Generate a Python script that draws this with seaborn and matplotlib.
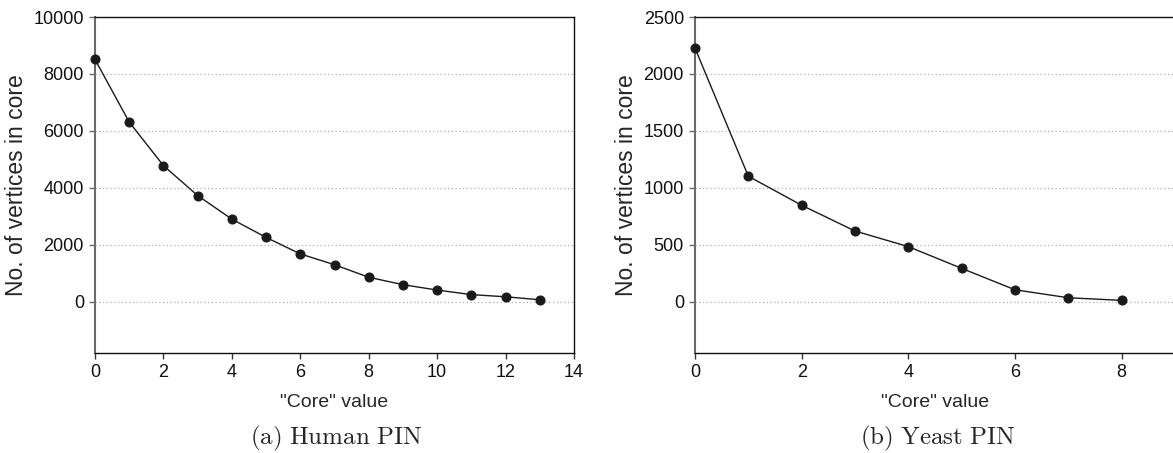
import matplotlib
matplotlib.use("Agg")
import matplotlib.pyplot as plt
import seaborn as sns
import pandas as pd

human_core = [0, 1, 2, 3, 4, 5, 6, 7, 8, 9, 10, 11, 12, 13]
human_vertices = [8510, 6310, 4780, 3730, 2900, 2260, 1680, 1300, 860, 600, 410, 250, 175, 70]
yeast_core = [0, 1, 2, 3, 4, 5, 6, 7, 8]
yeast_vertices = [2227, 1102, 847, 621, 484, 293, 105, 35, 12]

human_yticks = [0, 2000, 4000, 6000, 8000, 10000]
yeast_yticks = [0, 500, 1000, 1500, 2000, 2500]
human_xticks = [0, 2, 4, 6, 8, 10, 12, 14]
yeast_xticks = [0, 2, 4, 6, 8]
captions = ["(a)\\ Human\\ PIN", "(b)\\ Yeast\\ PIN"]

sns.set_style("white", {"xtick.bottom": True, "ytick.left": True})
plt.rcParams["font.family"] = ["Liberation Sans", "DejaVu Sans"]
plt.rcParams["mathtext.fontset"] = "cm"

W, H = 1173, 453
fig = plt.figure(figsize=(W / 100, H / 100), dpi=100)

def box(l, t, r, b):
    return [l / W, 1 - b / H, (r - l) / W, (b - t) / H]

ax1 = fig.add_axes(box(95, 17, 574, 353))
ax2 = fig.add_axes(box(695, 17, 1175, 353))

panels = [
    (ax1, human_core, human_vertices, human_yticks, human_xticks, (0, 14), (-1800, 10000), captions[0], 336),
    (ax2, yeast_core, yeast_vertices, yeast_yticks, yeast_xticks, (0, 9), (-450, 2500), captions[1], 938),
]

for ax, xs, ys, yt, xt, xl, yl, cap, cx in panels:
    df = pd.DataFrame({"core": xs, "vertices": ys})
    for v in yt[:-1]:
        ax.axhline(v, color="#b0b0b0", lw=0.9, ls=(0, (1, 2)), zorder=0)
    sns.lineplot(data=df, x="core", y="vertices", ax=ax, color="#1a1a1a", lw=1.0,
                 marker="o", markersize=6.5, markeredgecolor="#1a1a1a",
                 markerfacecolor="#1a1a1a", clip_on=False, zorder=3)
    ax.set_xlim(*xl)
    ax.set_ylim(*yl)
    ax.set_xticks(xt)
    ax.set_yticks(yt)
    ax.tick_params(axis="both", labelsize=13, length=4, width=1, direction="out",
                   colors="#333333", pad=4)
    ax.tick_params(axis="y", colors="#666666", labelcolor="#111111")
    ax.tick_params(axis="x", labelcolor="#111111")
    for s in ["top", "right", "bottom"]:
        ax.spines[s].set_color("#111111")
        ax.spines[s].set_linewidth(1.0)
    ax.spines["left"].set_color("#6a6a6a")
    ax.spines["left"].set_linewidth(1.5)
    ax.set_xlabel('"Core" value', fontsize=14, labelpad=9)
    ax.set_ylabel("No. of vertices in core", fontsize=16.5, labelpad=4)
    fig.text(cx / W, 1 - 438 / H, "$\\mathrm{" + cap + "}$", fontsize=18,
             ha="center", va="center")

fig.savefig("out.png", dpi=100)
